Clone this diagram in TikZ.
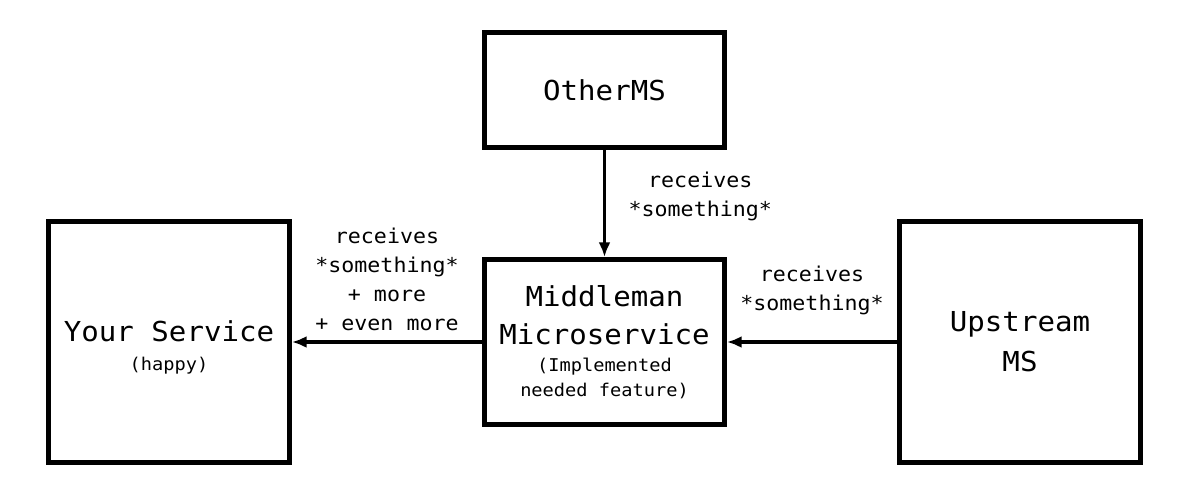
\documentclass[tikz,border=0pt]{standalone}
\usepackage{fontspec}
\usepackage{tikz}
\usetikzlibrary{arrows.meta,positioning}
\newfontfamily\msfont[FakeStretch=1.06]{DejaVu Sans Mono}
\newcommand{\bigms}{\msfont\fontsize{20.6pt}{28.5pt}\selectfont}
\newcommand{\labms}{\msfont\fontsize{15.3pt}{21.75pt}\selectfont}
\newcommand{\smallms}{\msfont\fontsize{13.2pt}{19pt}\selectfont}

\tikzset{
    msbox/.style={draw, line width=3.75pt, minimum width=180pt, align=center, font=\bigms, inner sep=0pt},
    flow/.style={-{Latex[length=11pt,width=9pt]}, line width=3pt},
    flowlabel/.style={align=center, font=\labms, inner sep=0pt}
}

\begin{document}
\begin{tikzpicture}[x=0.75pt, y=-0.75pt]

        \useasboundingbox (0,0) rectangle (1180,486);

        % Draw the four services
        \node[msbox, minimum height=86.25pt] (other) at (604.5,90) {OtherMS};
        \node[msbox, minimum height=123.75pt] (middle) at (604.5,342)
            {Middleman\\Microservice\\[-8.5pt]{\smallms (Implemented}\\[-9.75pt]{\smallms needed feature)}};
        \node[msbox, minimum width=180.75pt, minimum height=180.75pt] (your) at (169,342)
            {\rule{0pt}{23pt}Your Service\\[-6.75pt]{\smallms (happy)}};
        \node[msbox, minimum width=180.75pt, minimum height=180.75pt] (upstream) at (1020,342)
            {Upstream\\[1.5pt]MS};

        % Draw the flows between them
        \draw[flow, line width=2.25pt] (other) -- node[flowlabel, right=17pt, yshift=5.5pt] {receives\\*something*} (middle);
        \draw[flow] (upstream) -- node[flowlabel, above=19pt] {receives\\*something*} (middle);
        \draw[flow] (middle) -- node[flowlabel, above=7pt] {receives\\*something*\\+ more\\+ even more} (your);

\end{tikzpicture}
\end{document}
